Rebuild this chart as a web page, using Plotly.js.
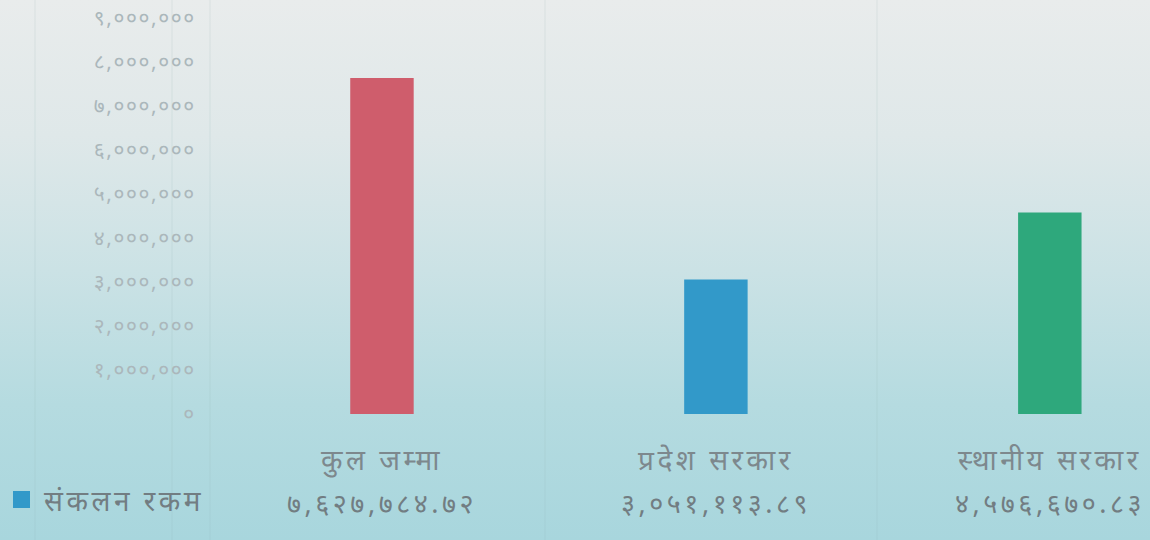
<!DOCTYPE html>
<html>
<head>
<meta charset="utf-8">
<script src="https://cdn.plot.ly/plotly-3.0.1.min.js"></script>
<style>
  html, body { margin:0; padding:0; width:1150px; height:540px; overflow:hidden; }
  body { background: linear-gradient(to bottom, #e9ecec 0%, #dfe8e9 25%, #cbe2e5 50%, #b5dbe0 75%, #a8d6dd 100%); }
  #chart { width:1150px; height:540px; }
  #chart .ytick text { letter-spacing: 1.6px; }
  #chart .xtick text { letter-spacing: 3.5px; }
  #chart .annotation-text { letter-spacing: 3.5px; }
</style>
</head>
<body>
<div id="chart"></div>
<script>
const categories = ['कुल जम्मा', 'प्रदेश सरकार', 'स्थानीय सरकार'];
const values = [7627784.72, 3051113.89, 4576670.83];
const valueLabels = ['७,६२७,७८४.७२', '३,०५१,११३.८९', '४,५७६,६७०.८३'];
const barColors = ['#cf5d6c', '#3299c9', '#2ea87c'];
const seriesName = 'संकलन रकम';
const yTickVals = [0, 1000000, 2000000, 3000000, 4000000, 5000000, 6000000, 7000000, 8000000, 9000000];
const yTickText = ['०', '१,०००,०००', '२,०००,०००', '३,०००,०००', '४,०००,०००', '५,०००,०००', '६,०००,०००', '७,०००,०००', '८,०००,०००', '९,०००,०००'];

const FONT = '"Noto Sans", "DejaVu Sans", sans-serif';
const plotLeft = 215, plotRight = 1150, plotTop = 0, plotBottom = 414;
const pw = plotRight - plotLeft, ph = plotBottom - plotTop;
const px = x => (x - plotLeft) / pw;
const py = y => (plotBottom - y) / ph;

const trace = {
  type: 'bar',
  x: [0, 1, 2],
  y: values,
  width: 0.19,
  marker: { color: barColors },
  name: seriesName,
  hoverinfo: 'none'
};

const annotations = [];
valueLabels.forEach((t, i) => {
  annotations.push({
    text: t, x: i, xref: 'x', y: py(502), yref: 'paper',
    showarrow: false, xanchor: 'center', yanchor: 'middle',
    font: { family: FONT, size: 27, color: '#727d82' }
  });
});
annotations.push({
  text: seriesName, x: px(124), xref: 'paper', y: py(500), yref: 'paper',
  showarrow: false, xanchor: 'center', yanchor: 'middle',
  font: { family: FONT, size: 28, color: '#727d82' }
});

const shapes = [
  { type: 'rect', xref: 'paper', yref: 'paper', x0: px(13), x1: px(30), y0: py(508), y1: py(491),
    fillcolor: '#3299c9', line: { width: 0 } }
];
[35, 172, 210, 545, 877].forEach(x => {
  shapes.push({ type: 'line', xref: 'paper', yref: 'paper', x0: px(x), x1: px(x), y0: py(540), y1: 1,
    line: { color: 'rgba(150,175,185,0.18)', width: 1 } });
});

const layout = {
  width: 1150, height: 540,
  margin: { l: plotLeft, r: 1150 - plotRight, t: plotTop, b: 540 - plotBottom, pad: 0 },
  paper_bgcolor: 'rgba(0,0,0,0)',
  plot_bgcolor: 'rgba(0,0,0,0)',
  showlegend: false,
  xaxis: {
    range: [-0.5, 2.3],
    tickvals: [0, 1, 2], ticktext: categories,
    ticks: 'outside', ticklen: 21, tickcolor: 'rgba(0,0,0,0)',
    showgrid: false, zeroline: false, showline: false,
    tickfont: { family: FONT, size: 28, color: '#7d888d' }
  },
  yaxis: {
    range: [0, 9400000],
    tickvals: yTickVals, ticktext: yTickText,
    ticks: 'outside', ticklen: 14, tickcolor: 'rgba(0,0,0,0)',
    showgrid: false, zeroline: false, showline: false,
    tickfont: { family: FONT, size: 21, color: '#abb7bb' }
  },
  annotations: annotations,
  shapes: shapes
};

Plotly.newPlot('chart', [trace], layout, { staticPlot: true, displayModeBar: false });
</script>
</body>
</html>
